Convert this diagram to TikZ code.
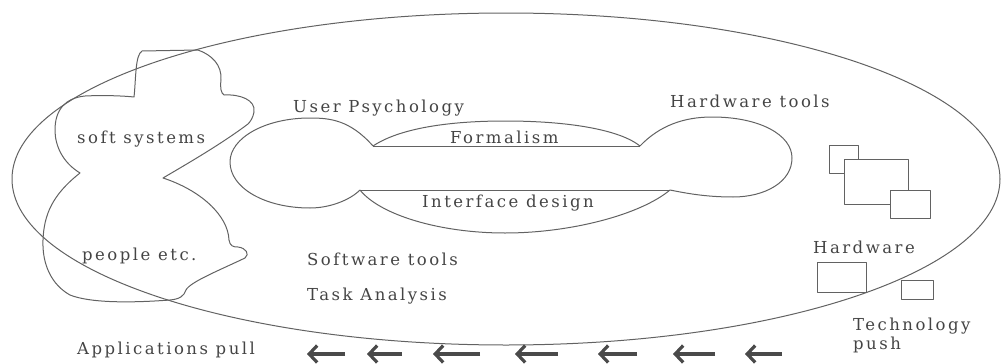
\documentclass[tikz,border=0pt]{standalone}
\usepackage{fontspec}
\usetikzlibrary{arrows.meta}
\newfontfamily\labelfont[LetterSpace=15]{DejaVu Serif}
\definecolor{ink}{HTML}{626262}
\definecolor{txt}{HTML}{444444}
\definecolor{arrowink}{HTML}{4A4A4A}
\tikzset{
  outline/.style={draw=ink, line width=1.0pt, line join=round},
  lbl/.style={anchor=base west, inner sep=0pt, text=txt,
              font=\labelfont\fontsize{16.5}{20}\selectfont},
  box/.style={outline, fill=white},
  pull/.style={draw=arrowink, line width=3.6pt,
               -{Straight Barb[length=8pt, width=17pt, line width=3.2pt]}}
}
\begin{document}
\begin{tikzpicture}[x=1pt, y=-1pt]
\useasboundingbox (0,0) rectangle (1002,364);

% outer field
\draw[outline] (506,179) ellipse [x radius=494, y radius=166];

% cloud of soft systems / people
\draw[outline] (134,97) .. controls (136,80) and (135,55) .. (142,51)
  -- (198,50) .. controls (212,55) and (222,65) .. (221,80)
  .. controls (220,88) and (221,93) .. (224,95)
  .. controls (240,94) and (256,100) .. (254,112)
  .. controls (253,118) and (250,122) .. (248,124)
  .. controls (220,145) and (185,165) .. (163,178)
  .. controls (200,190) and (228,215) .. (229,240)
  .. controls (230,246) and (233,247) .. (238,247)
  .. controls (246,248) and (250,254) .. (245,258)
  .. controls (220,270) and (190,282) .. (186,290)
  .. controls (184,296) and (180,299) .. (170,300)
  .. controls (130,303) and (90,303) .. (70,295)
  .. controls (52,285) and (42,265) .. (43,240)
  .. controls (44,215) and (52,195) .. (80,173)
  .. controls (62,162) and (55,145) .. (55,130)
  .. controls (55,110) and (65,98) .. (85,96)
  .. controls (105,95) and (125,96) .. (134,97) -- cycle;

% user psychology lobe
\draw[outline] (373,146) .. controls (350,120) and (330,118) .. (310,118)
  .. controls (265,118) and (230,138) .. (230,162)
  .. controls (230,188) and (265,208) .. (310,208)
  .. controls (330,208) and (350,200) .. (360,190);

% formalism lens
\draw[outline] (373,146) .. controls (400,128) and (450,121) .. (505,121)
  .. controls (570,121) and (620,130) .. (640,146);
\draw[outline] (373,146) -- (640,146);

% hardware tools lobe
\draw[outline] (640,146) .. controls (660,125) and (685,117) .. (712,117)
  .. controls (760,117) and (792,135) .. (792,158)
  .. controls (792,182) and (765,197) .. (733,197)
  .. controls (705,197) and (685,193) .. (670,190);

% interface design lens
\draw[outline] (360,190) -- (670,190);
\draw[outline] (360,190) .. controls (380,215) and (440,233) .. (505,233)
  .. controls (570,233) and (640,215) .. (670,190);

% hardware boxes
\draw[box] (829,145) rectangle (858,173);
\draw[box] (844,159) rectangle (908,204);
\draw[box] (890,190) rectangle (930,218);
\draw[box] (817,262) rectangle (866,292);
\draw[box] (901,280) rectangle (933,299);

% labels
\node[lbl] (soft)  at (77,143)  {soft systems};
\node[lbl] (people) at (82,260) {people etc.};
\node[lbl] (user)  at (293,112) {User Psychology};
\node[lbl] (form)  at (450,143) {Formalism};
\node[lbl] (iface) at (422,207) {Interface design};
\node[lbl] (hwt)   at (670,107) {Hardware tools};
\node[lbl] (hw)    at (813,253) {Hardware};
\node[lbl] (swt)   at (307,265) {Software tools};
\node[lbl] (task)  at (307,300) {Task Analysis};
\node[lbl] (tech)  at (853,330) {Technology};
\node[lbl] (push)  at (853,349) {push};
\node[lbl] (apps)  at (77,354)  {Applications pull};

% pull arrows
\foreach \i/\tip/\tail in {1/307/345, 2/367/402, 3/433/480, 4/515/558,
                           5/598/637, 6/673/715, 7/745/782} {
  \coordinate (t\i) at (\tail,354);
  \coordinate (h\i) at (\tip,354);
  \draw[pull] (t\i) -- (h\i);
}
\end{tikzpicture}
\end{document}
